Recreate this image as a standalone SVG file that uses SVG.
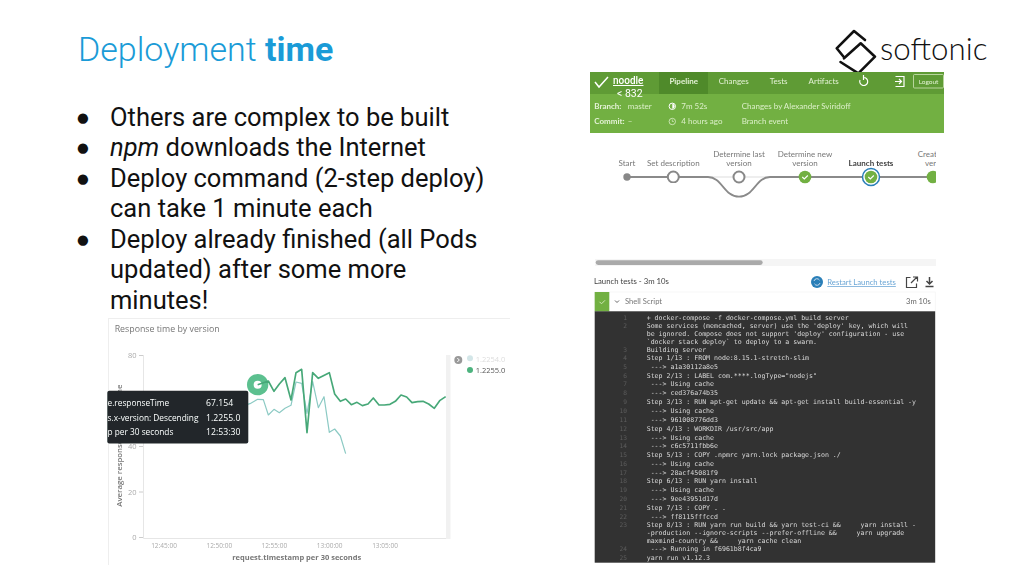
<svg xmlns="http://www.w3.org/2000/svg" width="1024" height="576" viewBox="0 0 1024 576">
<style>
text{font-family:Roboto,"Liberation Sans",sans-serif}
.t{font-size:25.5px;fill:#111}
.b{font-size:13.5px;fill:#111;font-family:"DejaVu Sans",sans-serif}
.l{font-family:Lato,"Open Sans",sans-serif}
.h{font-family:Lato,sans-serif;font-size:8px;fill:#dcefc8}
.hw{font-family:Lato,sans-serif;font-size:8px;fill:#e4f2d6}
.p{font-family:Lato,sans-serif;font-size:8px;fill:#777;text-anchor:middle}
.o{font-family:"Open Sans",sans-serif}
.ax{font-family:"Open Sans",sans-serif;font-size:6.5px;fill:#aaa;text-anchor:middle}
.ay{font-family:"Open Sans",sans-serif;font-size:7.5px;fill:#aaa;text-anchor:end}
.tip{font-family:"Open Sans",sans-serif;font-size:8.7px;fill:#fff}
.tipk{font-family:"Open Sans",sans-serif;font-size:8.3px;fill:#fff}
.c{font-family:"DejaVu Sans Mono",monospace;font-size:6.58px;fill:#d8d8d8;white-space:pre}
.n{font-family:"DejaVu Sans Mono",monospace;font-size:6.2px;fill:#5c5c5c;text-anchor:end}
.open{fill:#fff;stroke:#888;stroke-width:2}
.ok{fill:#72b043}
.chk{fill:none;stroke:#fff;stroke-width:1.1}
</style>
<defs>
<clipPath id="clipPipe"><rect x="590" y="140" width="346" height="70"/></clipPath>
<filter id="soft" x="-2%" y="-2%" width="104%" height="104%"><feGaussianBlur stdDeviation="0.35"/></filter>
</defs>
<rect width="1024" height="576" fill="#fff"/>

<g id="title"><text x="78" y="61" font-size="34" font-weight="300" fill="#1a9bd7">Deployment <tspan font-weight="700">time</tspan></text></g>

<g id="logo">
<path d="M865 40 L854 31 L836.7 48.3 L844 57.3 M840.5 62 L858.3 73.3 L875 56.7 L860.7 43.3 L844 58.3" fill="none" stroke="#111" stroke-width="2.6" stroke-linejoin="round" stroke-linecap="round"/>
<text x="880" y="59.500" font-size="31.300" font-weight="300" fill="#111" class="l">softonic</text>
</g>

<g id="bullets">
<text class="b" x="77" y="122">●</text><text class="t" x="110" y="126">Others are complex to be built</text>
<text class="b" x="77" y="152">●</text><text class="t" x="110" y="156"><tspan font-style="italic">npm</tspan> downloads the Internet</text>
<text class="b" x="77" y="183">●</text><text class="t" x="110" y="187">Deploy command (2-step deploy)</text>
<text class="t" x="110" y="217">can take 1 minute each</text>
<text class="b" x="77" y="244">●</text><text class="t" x="110" y="248">Deploy already finished (all Pods</text>
<text class="t" x="110" y="278">updated) after some more</text>
<text class="t" x="110" y="309">minutes!</text>
</g>

<g id="chart" filter="url(#soft)">
<path d="M108 318.500H510 M108.500 318V565" stroke="#eee" stroke-width="1" fill="none"/>
<text class="o" x="114.700" y="332" font-size="8.800" fill="#777">Response time by version</text>
<path d="M143.500 355V538.500H450" stroke="#e6e6e6" stroke-width="1" fill="none"/>
<rect x="446" y="355" width="4.500" height="184" fill="#f1f1f1"/>
<path d="M139 355.500H143 M139 446.500H143 M139 492H143 M139 537.500H143" stroke="#ccc" stroke-width="1"/>
<text class="ay" x="136.500" y="358">80</text><text class="ay" x="136.500" y="449">40</text><text class="ay" x="136.500" y="495">20</text><text class="ay" x="136.500" y="540">0</text>
<text class="ax" x="164" y="548">12:45:00</text><text class="ax" x="219.300" y="548">12:50:00</text><text class="ax" x="274.300" y="548">12:55:00</text><text class="ax" x="329.700" y="548">13:00:00</text><text class="ax" x="385" y="548">13:05:00</text>
<text class="o" x="296.700" y="559.500" font-size="7.500" font-weight="700" fill="#777" text-anchor="middle">request.timestamp per 30 seconds</text>
<text class="o" transform="translate(121.500 506.700) rotate(-90)" font-size="7.800" font-weight="600" fill="#777">Average response.responseTime</text>
<g transform="translate(100 310) scale(.33333)" fill="none" stroke-linejoin="round">
<polyline stroke="#8ccac4" stroke-width="3.600" points="420,290 450,281 473,268 490,269 505,315 522,298 538,308 555,295 573,286 588,216 605,220 621,310 638,215 655,293 672,260 688,367 704,357 721,378 737,431"/>
<circle cx="473" cy="224" r="32" fill="#5cc08f"/>
<circle cx="473" cy="224" r="12" fill="#fff"/>
<polyline stroke="#47a878" stroke-width="5" points="473,224 505,213 522,244 538,222 555,203 573,270 588,188 605,178 621,368 638,188 655,205 688,188 704,252 721,274 737,267 754,284 771,277 787,287 804,282 820,264 837,285 853,285 870,283 886,274 903,255 920,261 936,278 953,275 969,274 986,282 1003,295 1019,272 1037,260"/>
</g>
<rect x="107.300" y="390.700" width="141" height="52.700" rx="2" fill="#20282b"/>
<text class="tipk" x="107.500" y="406">e.responseTime</text><text class="tip" x="206" y="406">67.154</text>
<text class="tipk" x="107.500" y="420.700">s.x-version: Descending</text><text class="tip" x="206" y="420.700">1.2255.0</text>
<text class="tipk" x="107.500" y="435">p per 30 seconds</text><text class="tip" x="206" y="435">12:53:30</text>
<circle cx="458.300" cy="360" r="4" fill="#999"/><path d="M457.300 358l2 2-2 2" fill="none" stroke="#fff" stroke-width="1"/>
<circle cx="470" cy="358.300" r="3" fill="#d3e6e8"/><text class="o" x="475.700" y="361.500" font-size="7.500" fill="#ddd">1.2254.0</text>
<circle cx="470" cy="370" r="3" fill="#4db37e"/><text class="o" x="475.700" y="373" font-size="7.500" fill="#555">1.2255.0</text>
</g>

<g id="pipeline-header" filter="url(#soft)">
<rect x="590" y="72" width="354" height="61" fill="#72b043"/>
<rect x="590" y="72" width="354" height="22" fill="#5f9b34"/>
<rect x="659" y="72" width="49" height="22" fill="#4f8a2b"/>
<path d="M595 82l4 5 9-10" fill="none" stroke="#fff" stroke-width="1.500"/>
<text x="613" y="84" font-size="10" font-weight="500" fill="#fff" text-decoration="underline">noodle</text>
<text x="617" y="96.700" font-size="10.500" fill="#fff">&lt; 832</text>
<text class="hw" x="683.700" y="84" text-anchor="middle" font-weight="700" fill="#fff">Pipeline</text>
<text class="hw" x="733.700" y="84" text-anchor="middle">Changes</text>
<text class="hw" x="778.700" y="84" text-anchor="middle">Tests</text>
<text class="hw" x="823.700" y="84" text-anchor="middle">Artifacts</text>
<path d="M860 80a4 4 0 1 0 3.500-2.500 M863.500 75v5" fill="none" stroke="#fff" stroke-width="1.200"/>
<path d="M895.500 76.500h8.500v10h-8.500 M895 81.500h6 M899 79l2.500 2.500-2.500 2.500" fill="none" stroke="#fff" stroke-width="1.200"/>
<rect x="913.500" y="74.500" width="30" height="13.500" rx="1" fill="none" stroke="#cfe3b8" stroke-width="0.800"/>
<text class="hw" x="928.500" y="83.500" text-anchor="middle" style="font-size:6.500px">Logout</text>
<text class="hw" x="594.300" y="109" font-weight="700">Branch:</text><text class="h" x="627.700" y="109">master</text>
<circle cx="672.300" cy="106.300" r="3.200" fill="none" stroke="#fff"/><path d="M672.300 106.300V103.500A2.800 2.800 0 0 1 672.300 109Z" fill="#fff"/>
<text class="h" x="681.300" y="109">7m 52s</text><text class="h" x="741.700" y="109">Changes by Alexander Sviridoff</text>
<text class="hw" x="594.300" y="124.300" font-weight="700">Commit:</text><text class="h" x="627.700" y="124.300">–</text>
<circle cx="672.300" cy="121.500" r="3.200" fill="none" stroke="#dcefc8" stroke-width="0.800"/><path d="M672.300 119.500v2h1.500" fill="none" stroke="#dcefc8" stroke-width="0.700"/>
<text class="h" x="681.300" y="124.300">4 hours ago</text><text class="h" x="741.700" y="124.300">Branch event</text>
</g>

<g id="connectors" filter="url(#soft)">
<path d="M708 177H770" stroke="#e8e8e8" stroke-width="1.500" fill="none"/>
<path d="M627 177H708C722 177 724 196.700 739 196.700C754 196.700 756 177 770 177H936" stroke="#8a8a8a" stroke-width="1.800" fill="none" clip-path="url(#clipPipe)"/>
</g>

<g id="stage-start" filter="url(#soft)"><circle cx="627" cy="177" r="3.700" fill="#888"/><text class="p" x="627" y="166">Start</text></g>
<g id="stage-set-description" filter="url(#soft)"><circle class="open" cx="673.300" cy="177" r="5.500"/><text class="p" x="673.300" y="166">Set description</text></g>
<g id="stage-determine-last" filter="url(#soft)"><circle class="open" cx="739" cy="177" r="5.500"/><text class="p" x="739" y="157">Determine last</text><text class="p" x="739" y="166">version</text></g>
<g id="stage-determine-new" filter="url(#soft)"><circle class="ok" cx="805" cy="177" r="6.300"/><path class="chk" d="M802.300 177l2 2 3.500-3.500"/><text class="p" x="805" y="157">Determine new</text><text class="p" x="805" y="166">version</text></g>
<g id="stage-launch-tests" filter="url(#soft)"><circle cx="871" cy="177" r="8.500" fill="#fff" stroke="#2a7fb8" stroke-width="1.500"/><circle class="ok" cx="871" cy="177" r="6.300"/><path class="chk" d="M868.300 177l2 2 3.500-3.500"/><text class="p" x="871" y="166" font-weight="700" style="fill:#444">Launch tests</text></g>
<g id="stage-create" clip-path="url(#clipPipe)"><circle class="ok" cx="933" cy="177" r="6.300"/><text class="p" x="917.700" y="157" style="text-anchor:start">Creat</text><text class="p" x="925" y="166" style="text-anchor:start">ver</text></g>

<g id="scrollbar"><rect x="595" y="259" width="341" height="7" fill="#f5f5f5"/><rect x="595.700" y="260.200" width="167" height="4.800" rx="2.400" fill="#aaa"/></g>

<g id="log-header" filter="url(#soft)">
<text class="l" x="594" y="284" font-size="7.750" fill="#444">Launch tests - 3m 10s</text>
<circle cx="817" cy="282" r="6" fill="#2a7fb8"/><path d="M814 281a3 3 0 0 1 5.500-.8 M820 283a3 3 0 0 1-5.500.8" fill="none" stroke="#cde" stroke-width="1"/>
<text class="l" x="827.300" y="285" font-size="7.700" fill="#6ba6d6" text-decoration="underline">Restart Launch tests</text>
<path d="M910.500 277.500h-4v10h10v-4 M911 283l6-6 M913 277h4.500v4.500" fill="none" stroke="#444" stroke-width="1.200"/>
<path d="M929.500 277v6 M926.500 281l3 3 3-3 M925.500 286.500h8" fill="none" stroke="#444" stroke-width="1.500"/>
<rect x="594.700" y="292" width="340.500" height="19.500" fill="#fff" stroke="#f2f2f2" stroke-width="0.600"/>
<rect x="594.700" y="292" width="14.600" height="19.500" fill="#72b043"/>
<path d="M599.500 301.800l2 2 3.500-3.500" fill="none" stroke="#cfe6b5" stroke-width="1"/>
<path d="M615 300.500l2 2 2-2" fill="none" stroke="#666" stroke-width="1"/>
<text class="l" x="625" y="304" font-size="7.600" fill="#777">Shell Script</text>
<text class="l" x="930.700" y="304" font-size="7.600" fill="#666" text-anchor="end">3m 10s</text>
</g>

<g id="terminal" filter="url(#soft)">
<rect x="594.700" y="311.300" width="340.500" height="251.400" fill="#333"/>
<text class="n" x="627" y="319.500">1</text><text class="c" x="646.700" y="319.500">+ docker-compose -f docker-compose.yml build server</text>
<text class="n" x="627" y="328.200">2</text><text class="c" x="646.700" y="328.200">Some services (memcached, server) use the 'deploy' key, which will</text>
<text class="c" x="646.700" y="335.900">be ignored. Compose does not support 'deploy' configuration - use</text>
<text class="c" x="646.700" y="343.500">`docker stack deploy` to deploy to a swarm.</text>
<text class="n" x="627" y="351.500">3</text><text class="c" x="646.700" y="351.500">Building server</text>
<text class="n" x="627" y="360.200">4</text><text class="c" x="646.700" y="360.200">Step 1/13 : FROM node:8.15.1-stretch-slim</text>
<text class="n" x="627" y="368.900">5</text><text class="c" x="646.700" y="368.900"> ---&gt; a1a30112a8e5</text>
<text class="n" x="627" y="377.500">6</text><text class="c" x="646.700" y="377.500">Step 2/13 : LABEL com.****.logType="nodejs"</text>
<text class="n" x="627" y="386.200">7</text><text class="c" x="646.700" y="386.200"> ---&gt; Using cache</text>
<text class="n" x="627" y="395.200">8</text><text class="c" x="646.700" y="395.200"> ---&gt; ced376a74b35</text>
<text class="n" x="627" y="403.900">9</text><text class="c" x="646.700" y="403.900">Step 3/13 : RUN apt-get update &amp;&amp; apt-get install build-essential -y</text>
<text class="n" x="627" y="412.900">10</text><text class="c" x="646.700" y="412.900"> ---&gt; Using cache</text>
<text class="n" x="627" y="421.500">11</text><text class="c" x="646.700" y="421.500"> ---&gt; 961008776dd3</text>
<text class="n" x="627" y="430.500">12</text><text class="c" x="646.700" y="430.500">Step 4/13 : WORKDIR /usr/src/app</text>
<text class="n" x="627" y="439.500">13</text><text class="c" x="646.700" y="439.500"> ---&gt; Using cache</text>
<text class="n" x="627" y="448.200">14</text><text class="c" x="646.700" y="448.200"> ---&gt; c6c5711fbb6e</text>
<text class="n" x="627" y="456.900">15</text><text class="c" x="646.700" y="456.900">Step 5/13 : COPY .npmrc yarn.lock package.json ./</text>
<text class="n" x="627" y="465.900">16</text><text class="c" x="646.700" y="465.900"> ---&gt; Using cache</text>
<text class="n" x="627" y="474.500">17</text><text class="c" x="646.700" y="474.500"> ---&gt; 28acf45081f9</text>
<text class="n" x="627" y="483.200">18</text><text class="c" x="646.700" y="483.200">Step 6/13 : RUN yarn install</text>
<text class="n" x="627" y="492.200">19</text><text class="c" x="646.700" y="492.200"> ---&gt; Using cache</text>
<text class="n" x="627" y="500.900">20</text><text class="c" x="646.700" y="500.900"> ---&gt; 9ee43951d17d</text>
<text class="n" x="627" y="509.900">21</text><text class="c" x="646.700" y="509.900">Step 7/13 : COPY . .</text>
<text class="n" x="627" y="518.500">22</text><text class="c" x="646.700" y="518.500"> ---&gt; ff8115fffccd</text>
<text class="n" x="627" y="527.200">23</text><text class="c" x="646.700" y="527.200">Step 8/13 : RUN yarn run build &amp;&amp; yarn test-ci &amp;&amp;     yarn install -</text>
<text class="c" x="646.700" y="535.200">-production --ignore-scripts --prefer-offline &amp;&amp;     yarn upgrade</text>
<text class="c" x="646.700" y="542.900">maxmind-country &amp;&amp;     yarn cache clean</text>
<text class="n" x="627" y="550.900">24</text><text class="c" x="646.700" y="550.900"> ---&gt; Running in f6961b8f4ca9</text>
<text class="n" x="627" y="559.500">25</text><text class="c" x="646.700" y="559.500">yarn run v1.12.3</text>
</g>
</svg>
